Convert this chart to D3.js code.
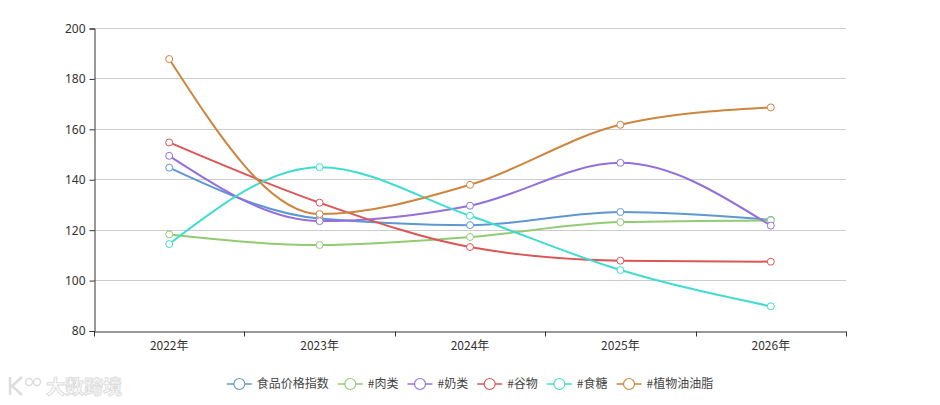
<!DOCTYPE html>
<html>
<head>
<meta charset="utf-8">
<script src="https://cdn.jsdelivr.net/npm/d3@7"></script>
<style>
  body { margin: 0; background: #fff; }
  text { font-family: "Noto Sans CJK SC", "Noto Sans", sans-serif; }
</style>
</head>
<body>
<div id="chart"></div>
<script>
const years = ["2022年", "2023年", "2024年", "2025年", "2026年"];
const seriesNames = ["食品价格指数", "#肉类", "#奶类", "#谷物", "#食糖", "#植物油油脂"];
const foodIndex = [144.6, 124.4, 121.8, 127.0, 123.9];
const meat = [118.1, 113.9, 117.1, 123.0, 123.7];
const dairy = [149.3, 123.4, 129.5, 146.5, 121.6];
const cereals = [154.6, 130.7, 113.1, 107.7, 107.3];
const sugar = [114.3, 144.8, 125.5, 104.0, 89.6];
const oils = [187.7, 126.2, 137.8, 161.6, 168.5];
const yTicks = [80, 100, 120, 140, 160, 180, 200];
const colors = ["#5f97d3", "#91cc75", "#9370db", "#dc5656", "#40dcd0", "#cd853f"];

const allSeries = [foodIndex, meat, dairy, cereals, sugar, oils];

const width = 940, height = 405;
const margin = { top: 28, right: 94, bottom: 74, left: 94 };

const svg = d3.select("#chart").append("svg")
    .attr("width", width)
    .attr("height", height);

const x = d3.scaleBand()
    .domain(years)
    .range([margin.left, width - margin.right]);

const y = d3.scaleLinear()
    .domain([80, 200])
    .range([height - margin.bottom - 0.5, margin.top]);

// grid lines
svg.append("g")
    .selectAll("line")
    .data(yTicks.slice(1))
    .enter()
    .append("line")
    .attr("x1", margin.left).attr("x2", width - margin.right)
    .attr("y1", d => Math.round(y(d)) + 0.5).attr("y2", d => Math.round(y(d)) + 0.5)
    .attr("stroke", "#ccc");

// y axis
const yAxis = svg.append("g")
    .attr("transform", `translate(${margin.left + 0.5},0.5)`)
    .call(d3.axisLeft(y).tickValues(yTicks).tickSize(5).tickPadding(4));
yAxis.select(".domain").attr("stroke", "#333");
yAxis.selectAll(".tick line").attr("stroke", "#333");
yAxis.selectAll("text").attr("fill", "#333").attr("font-size", 12)
    .style("font-family", "'Noto Sans', sans-serif");

// x axis
const xAxis = svg.append("g")
    .attr("transform", `translate(0,${Math.round(y(80)) + 0.5})`)
    .call(d3.axisBottom(x).tickSize(0).tickPadding(10).tickSizeOuter(0));
xAxis.select(".domain").attr("stroke", "#333");
xAxis.selectAll("text").attr("fill", "#333").attr("font-size", 12);
xAxis.selectAll(".band-tick")
    .data(d3.range(years.length + 1))
    .enter()
    .append("line")
    .attr("x1", i => Math.round(margin.left + i * x.step()) + 0.5)
    .attr("x2", i => Math.round(margin.left + i * x.step()) + 0.5)
    .attr("y1", 0).attr("y2", 5)
    .attr("stroke", "#333");

const line = d3.line()
    .x((d, i) => x(years[i]) + x.bandwidth() / 2)
    .y(d => y(d))
    .curve(d3.curveMonotoneX);

allSeries.forEach((values, k) => {
    svg.append("path")
        .datum(values)
        .attr("d", line)
        .attr("fill", "none")
        .attr("stroke", colors[k])
        .attr("stroke-width", 2);
});

allSeries.forEach((values, k) => {
    svg.selectAll(`.dot-${k}`)
        .data(values)
        .enter()
        .append("circle")
        .attr("cx", (d, i) => x(years[i]) + x.bandwidth() / 2)
        .attr("cy", d => y(d))
        .attr("r", 3.5)
        .attr("fill", "#fff")
        .attr("stroke", colors[k])
        .attr("stroke-width", 1);
});

// legend
const legend = svg.append("g");
let lx = 0;
seriesNames.forEach((name, k) => {
    const g = legend.append("g").attr("transform", `translate(${lx},0)`);
    g.append("line")
        .attr("x1", 0).attr("x2", 25)
        .attr("y1", 0).attr("y2", 0)
        .attr("stroke", colors[k]).attr("stroke-width", 1.5);
    g.append("circle")
        .attr("cx", 12.5).attr("cy", 0).attr("r", 5.5)
        .attr("fill", "#fff").attr("stroke", colors[k]).attr("stroke-width", 1.2);
    const t = g.append("text")
        .attr("x", 30).attr("y", 0).attr("dy", "0.35em")
        .attr("font-size", 12).attr("fill", "#444")
        .text(name);
    lx += 30 + t.node().getComputedTextLength() + 9;
});
const legendW = lx - 9;
legend.attr("transform", `translate(${(width - legendW) / 2},384)`);

// watermark
const wm = svg.append("g").attr("transform", "translate(8,386)");
wm.append("path")
    .attr("d", "M2,-9 L2,9 M14,-9 L4,0 L14,9")
    .attr("fill", "none").attr("stroke", "#ddd").attr("stroke-width", 2.5);
wm.append("circle").attr("cx", 21).attr("cy", -4).attr("r", 3.5)
    .attr("fill", "none").attr("stroke", "#ddd").attr("stroke-width", 1.5);
wm.append("circle").attr("cx", 29).attr("cy", -4).attr("r", 3.5)
    .attr("fill", "none").attr("stroke", "#ddd").attr("stroke-width", 1.5);
wm.append("text")
    .attr("x", 38).attr("y", 1).attr("dy", "0.35em")
    .attr("font-size", 19).attr("font-weight", "bold")
    .attr("fill", "#fff").attr("stroke", "#ddd").attr("stroke-width", 1)
    .text("大数跨境");
</script>
</body>
</html>
